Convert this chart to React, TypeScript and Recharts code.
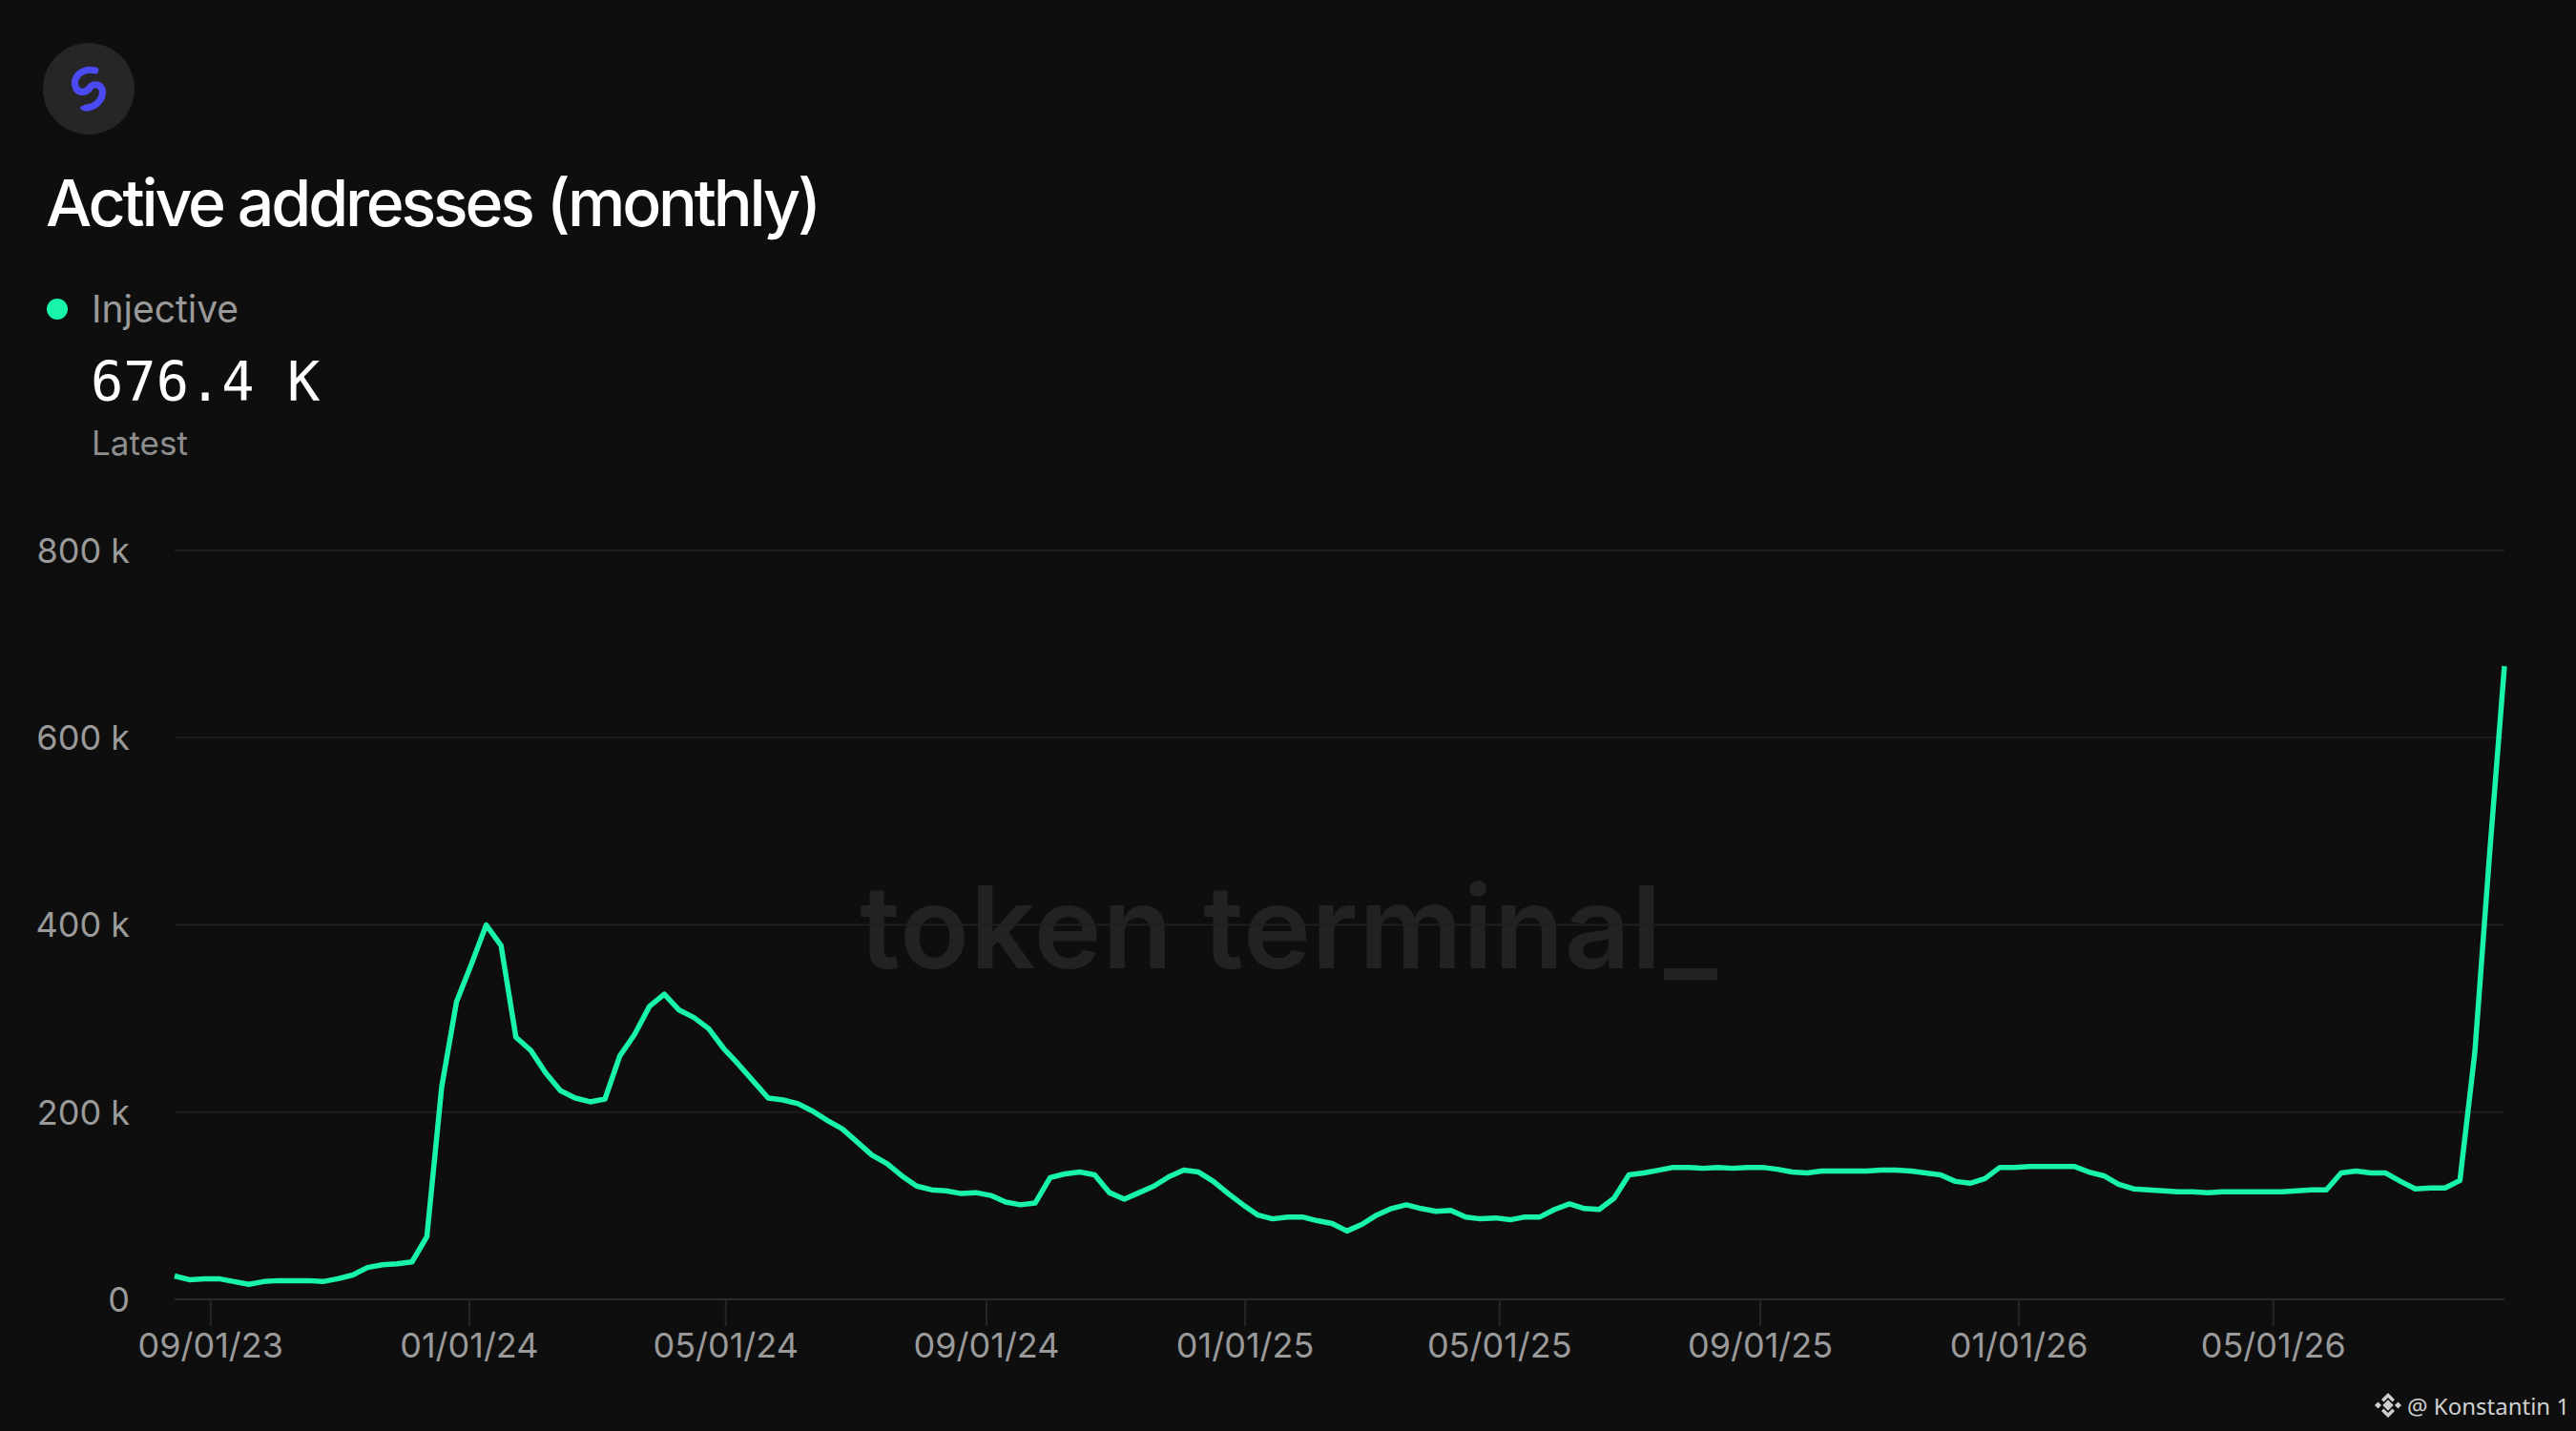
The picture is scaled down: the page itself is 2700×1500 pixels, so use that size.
import React from 'react';
import { LineChart, Line, XAxis, YAxis, CartesianGrid } from 'recharts';

// weekly readings (thousands of active addresses), first week starts 2023-08-15
const START = Date.UTC(2023, 7, 15);
const WEEK = 7 * 24 * 3600 * 1000;

const values2023 = [
  25, 21, 22, 22, 19, 16, 19, 20, 20, 20, 19, 22, 26, 34, 37, 38, 40, 67, 227, 318,
];
const values2024 = [
  358, 400, 378, 280, 266, 242, 223, 215, 211, 214, 260, 283, 313, 326, 309, 301, 289, 268,
  251, 233, 215, 213, 209, 201, 191, 182, 168, 154, 145, 132, 121, 117, 116, 113, 114, 111,
  104, 101, 103, 130, 134, 136, 133, 114, 107, 114, 121, 131, 138, 136, 126, 113, 101,
];
const values2025 = [
  90, 86, 88, 88, 84, 81, 73, 80, 90, 97, 101, 97, 94, 95, 88, 86, 87, 85, 88, 88, 96, 102,
  97, 96, 108, 133, 135, 138, 141, 141, 140, 141, 140, 141, 141, 139, 136, 135, 137, 137,
  137, 137, 138, 138, 137, 135, 133, 126, 124, 129, 141, 141,
];
const values2026 = [
  142, 142, 142, 142, 136, 132, 123, 118, 117, 116, 115, 115, 114, 115, 115, 115, 115, 115,
  116, 117, 117, 135, 137, 135, 135, 126, 118, 119, 119, 127, 263, 476, 676.4,
];

const xTickDates = [
  [2023, 8, 1], [2024, 0, 1], [2024, 4, 1], [2024, 8, 1], [2025, 0, 1],
  [2025, 4, 1], [2025, 8, 1], [2026, 0, 1], [2026, 4, 1],
];
const yTicks = [0, 200000, 400000, 600000, 800000];

const allValues = [...values2023, ...values2024, ...values2025, ...values2026];
const data = allValues.map((v, i) => ({ t: START + i * WEEK, v: v * 1000 }));
const xTicks = xTickDates.map(([y, m, d]) => Date.UTC(y, m, d));

const pad = (n: number) => String(n).padStart(2, '0');
const fmtDate = (t: number) => {
  const d = new Date(t);
  return `${pad(d.getUTCMonth() + 1)}/${pad(d.getUTCDate())}/${pad(d.getUTCFullYear() % 100)}`;
};
const fmtY = (v: number) => (v === 0 ? '0' : `${v / 1000} k`);

const GREEN = '#18f5a8';
const tickStyle = { fill: '#9a9a9a', fontSize: 36, fontFamily: 'Inter' };

const Backdrop = () => (
  <svg width={2700} height={1500} style={{ position: 'absolute', left: 0, top: 0 }}>
    <circle cx={93} cy={93} r={48} fill="#262626" />
    <g transform="translate(69 69) scale(0.48)" fill="none" stroke="#4b4af2" strokeLinecap="round">
      {/* rough take on the two interlocking swooshes */}
      <path d="M 64 10 C 34 4, 12 26, 22 48 C 28 62, 46 58, 52 48 C 60 36, 80 40, 80 58 C 80 76, 64 90, 44 92" strokeWidth={15} />
      <path d="M 36 92 C 66 96, 88 74, 78 52 M 20 44 C 20 24, 36 10, 56 8" strokeWidth={9} />
    </g>
    <text x={48} y={237} fill="#ffffff" fontFamily="Inter" fontWeight={500} fontSize={68}
      textLength={813} lengthAdjust="spacing">Active addresses (monthly)</text>
    <circle cx={60} cy={324} r={11} fill={GREEN} />
    <text x={96} y={338} fill="#9a9a9a" fontFamily="Inter" fontSize={39}>Injective</text>
    <text x={95} y={420} fill="#ffffff" fontFamily="DejaVu Sans Mono" fontSize={57}>676.4 K</text>
    <text x={96} y={477} fill="#8e8e8e" fontFamily="Inter" fontSize={35}>Latest</text>
    <text x={901} y={1015} fill="#222222" fontFamily="Inter" fontWeight={600} fontSize={120}
      textLength={899} lengthAdjust="spacing">token terminal_</text>
    <g transform="translate(2503 1473)" fill="#cfcfcf">
      <rect x={-4} y={-4} width={8} height={8} transform="rotate(45)" />
      <rect x={-13} y={-2.5} width={5} height={5} transform="rotate(45 -10.5 0)" />
      <rect x={8} y={-2.5} width={5} height={5} transform="rotate(45 10.5 0)" />
      <path d="M -7 -6 L 0 -13 L 7 -6 L 4.5 -3.5 L 0 -8 L -4.5 -3.5 Z" />
      <path d="M -7 6 L 0 13 L 7 6 L 4.5 3.5 L 0 8 L -4.5 3.5 Z" />
    </g>
    <text x={2523} y={1483} fill="#d0d0d0" fontFamily="Noto Sans" fontSize={24}>@ Konstantin 1</text>
  </svg>
);

export default function App() {
  return (
    <div style={{ position: 'fixed', left: 0, top: 0, width: 2700, height: 1500, background: '#0e0e0e', overflow: 'hidden' }}>
      <Backdrop />
      <div style={{ position: 'absolute', left: 0, top: 0 }}>
        <LineChart width={2700} height={1500} data={data} margin={{ top: 577, right: 75, bottom: 38, left: 0 }}>
          <CartesianGrid vertical={false} stroke="#1f1f1f" strokeWidth={2} />
          <XAxis
            type="number"
            dataKey="t"
            domain={[data[0].t, data[data.length - 1].t]}
            ticks={xTicks}
            interval={0}
            tickFormatter={fmtDate}
            height={100}
            axisLine={{ stroke: '#2a2a2a', strokeWidth: 2 }}
            tickLine={{ stroke: '#262626', strokeWidth: 2 }}
            tickSize={28}
            tickMargin={7}
            tick={tickStyle}
          />
          <YAxis
            width={183}
            domain={[0, 800000]}
            ticks={yTicks}
            interval={0}
            tickFormatter={fmtY}
            axisLine={false}
            tickLine={false}
            tickSize={0}
            tickMargin={47}
            tick={tickStyle}
          />
          <Line
            type="linear"
            dataKey="v"
            stroke={GREEN}
            strokeWidth={5.5}
            strokeLinejoin="round"
            dot={false}
            activeDot={false}
            isAnimationActive={false}
          />
        </LineChart>
      </div>
    </div>
  );
}
